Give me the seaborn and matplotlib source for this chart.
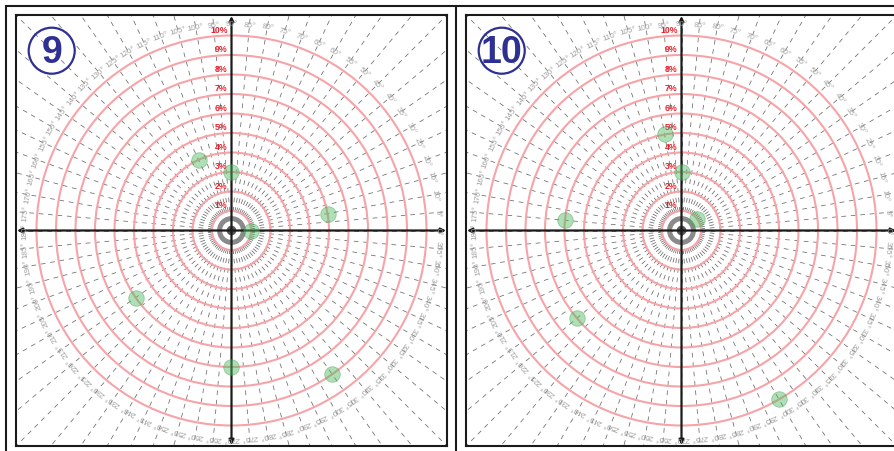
import numpy as np
import pandas as pd
import seaborn as sns
import matplotlib.pyplot as plt
from matplotlib.patches import Circle

# ---------------- data ----------------
panel_titles = ["9", "10"]
angles_9 = [115, 90, 10, 0, 215, 270, 305]
values_9 = [4, 3, 5, 1, 6, 7, 9]
angles_10 = [100, 90, 175, 35, 220, 300]
values_10 = [5, 3, 6, 1, 7, 10]
ring_levels = [1, 2, 3, 4, 5, 6, 7, 8, 9, 10]
ring_labels = [f"{p}%" for p in ring_levels]
angle_ticks = list(range(0, 360, 5))
angle_labels = [f"{a}°" for a in angle_ticks]

sns.set_theme(style="white")
plt.rcParams["font.family"] = ["Liberation Sans", "DejaVu Sans"]
plt.rcParams["lines.scale_dashes"] = False

W, H = 895, 452
fig = plt.figure(figsize=(W / 100, H / 100), dpi=100)

# outer frame (pixel coordinates)
bg = fig.add_axes([0, 0, 1, 1])
bg.set_xlim(0, W)
bg.set_ylim(H, 0)
bg.axis("off")
frame_kw = dict(color="#1a1a1a", lw=1.5, solid_capstyle="butt")
bg.plot([6, W], [6.5, 6.5], **frame_kw)
bg.plot([6.5, 6.5], [6, H], **frame_kw)
bg.plot([456.5, 456.5], [6, H], **frame_kw)

PX_PER_PCT = 19.5
HALF = 215.5
LIM = HALF / PX_PER_PCT
PANEL_LEFTS = [16, 466]
PANEL_TOP = 16
SIZE = 431

ring_color = "#f6a4a8"
dash_color = "#6a6a6a"
label_red = "#e8222c"
navy = "#2e3192"
point_color = "#4cb85e"

datasets = [(angles_9, values_9), (angles_10, values_10)]

for title, left, (angs, vals) in zip(panel_titles, PANEL_LEFTS, datasets):
    ax = fig.add_axes([left / W, (H - PANEL_TOP - SIZE) / H, SIZE / W, SIZE / H])
    ax.set_xlim(-LIM, LIM)
    ax.set_ylim(-LIM, LIM)
    ax.set_xticks([])
    ax.set_yticks([])
    for s in ax.spines.values():
        s.set_color("#1a1a1a")
        s.set_linewidth(1.5)
    ax.set_facecolor("white")

    # radial dashed lines every 5 degrees
    R = 17
    for a in angle_ticks:
        t = np.deg2rad(a)
        ax.plot([0, R * np.cos(t)], [0, R * np.sin(t)], color=dash_color,
                lw=0.55, linestyle=(0, (3.4, 3.4)), zorder=1)

    # center target
    ax.add_patch(Circle((0, 0), 0.62, fill=False, ec="#8a8a8a", lw=3.2, zorder=2))
    ax.add_patch(Circle((0, 0), 0.22, fc="#555555", ec="none", zorder=2))

    # rings
    for p in ring_levels:
        ax.add_patch(Circle((0, 0), p, fill=False, ec=ring_color, lw=1.5, zorder=2))

    # crosshair with arrows
    ax.annotate("", xy=(LIM - 0.05, 0), xytext=(-LIM + 0.05, 0),
                arrowprops=dict(arrowstyle="<|-|>", lw=1.6, color="#1a1a1a",
                                mutation_scale=7, shrinkA=0, shrinkB=0), zorder=3)
    ax.annotate("", xy=(0, LIM - 0.05), xytext=(0, -LIM + 0.05),
                arrowprops=dict(arrowstyle="<|-|>", lw=1.6, color="#1a1a1a",
                                mutation_scale=7, shrinkA=0, shrinkB=0), zorder=3)

    # angle labels
    for a, lab in zip(angle_ticks, angle_labels):
        t = np.deg2rad(a)
        ax.text(10.6 * np.cos(t), 10.6 * np.sin(t), lab, rotation=a - 90,
                rotation_mode="anchor", ha="center", va="center",
                fontsize=5.8, color="#a0a0a0", zorder=4)

    # percent labels
    for p, lab in zip(ring_levels, ring_labels):
        ax.text(-0.2, p + 0.1, lab, ha="right", va="bottom", fontsize=6.3,
                fontweight="bold", color=label_red, zorder=4)

    # points
    df = pd.DataFrame({"angle": angs, "value": vals})
    df["x"] = df["value"] * np.cos(np.deg2rad(df["angle"]))
    df["y"] = df["value"] * np.sin(np.deg2rad(df["angle"]))
    sns.scatterplot(data=df, x="x", y="y", ax=ax, s=125, color=point_color,
                    alpha=0.45, edgecolor="#3e9e50", linewidth=0.6, zorder=5,
                    legend=False)
    ax.set_xlabel("")
    ax.set_ylabel("")
    ax.set_xlim(-LIM, LIM)
    ax.set_ylim(-LIM, LIM)

    # panel number badge
    cx, cy = -9.22, 9.22
    ax.add_patch(Circle((cx, cy), 1.18, fill=False, ec=navy, lw=1.6, zorder=6))
    ax.text(cx, cy - 0.05, title, ha="center", va="center", fontsize=27,
            fontweight="bold", color=navy, zorder=6)

fig.savefig("out.png", dpi=100)
